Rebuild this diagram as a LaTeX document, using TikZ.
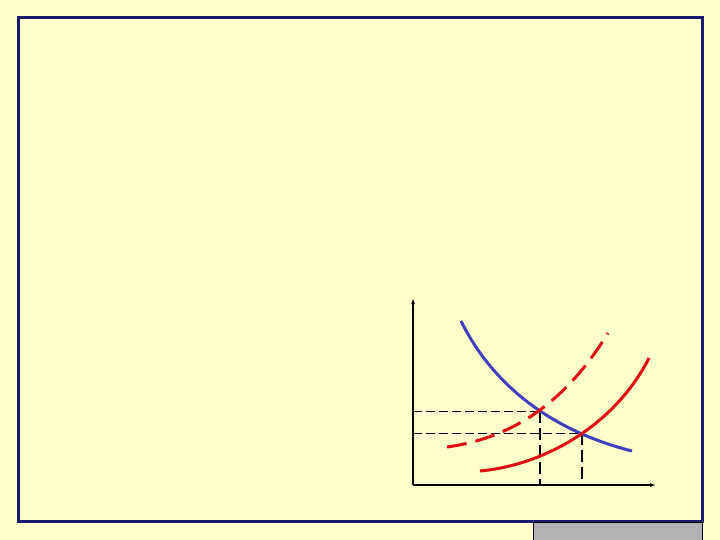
\documentclass[tikz,border=0pt]{standalone}
\usetikzlibrary{arrows.meta}
\definecolor{bgyellow}{HTML}{FFFFCC}
\definecolor{framenavy}{HTML}{1A1A6E}
\definecolor{curveblue}{HTML}{3F3FBF}
\definecolor{curvered}{HTML}{E01010}
\definecolor{tabgray}{HTML}{B2B2B2}
\tikzset{
  axis/.style={line width=1.2pt,-{Latex[length=6pt,width=4pt]}},
  hguide/.style={line width=0.8pt,dash pattern=on 9pt off 4pt},
  vguide/.style={line width=1.8pt,dash pattern=on 12pt off 5pt},
  demand/.style={curveblue,line width=3pt},
  supply/.style={curvered,line width=3pt},
  supplyold/.style={curvered,line width=3pt,dash pattern=on 20pt off 9pt}
}
\begin{document}
\begin{tikzpicture}[x=1pt,y=-1pt]
\useasboundingbox (0,0) rectangle (720,540);
\fill[bgyellow] (0,0) rectangle (720,540);
\draw[framenavy,line width=3pt] (18,18) rectangle (702,521);
\filldraw[fill=tabgray,draw=black,line width=0.8pt] (533,522.5) rectangle (702,541);
% axes
\coordinate (O) at (413,485);
\coordinate (ytop) at (413,298);
\coordinate (xend) at (656,485);
\draw[axis] (O) -- (ytop);
\draw[axis] (O) -- (xend);
% equilibria
\coordinate (E1) at (540,411);
\coordinate (E2) at (582,433);
\draw[hguide] (O |- E1) -- (E1);
\draw[hguide] (O |- E2) -- (E2);
\draw[vguide] (E1) -- (E1 |- O);
\draw[vguide] (E2) -- (E2 |- O);
% curves
\draw[demand] (461,321) .. controls (500,400) and (572,436) .. (632,451);
\draw[supplyold] (447,447) .. controls (520,437) and (570,395) .. (608,333);
\draw[supply] (480,471) .. controls (545,465) and (615,425) .. (649,358);
\end{tikzpicture}
\end{document}
